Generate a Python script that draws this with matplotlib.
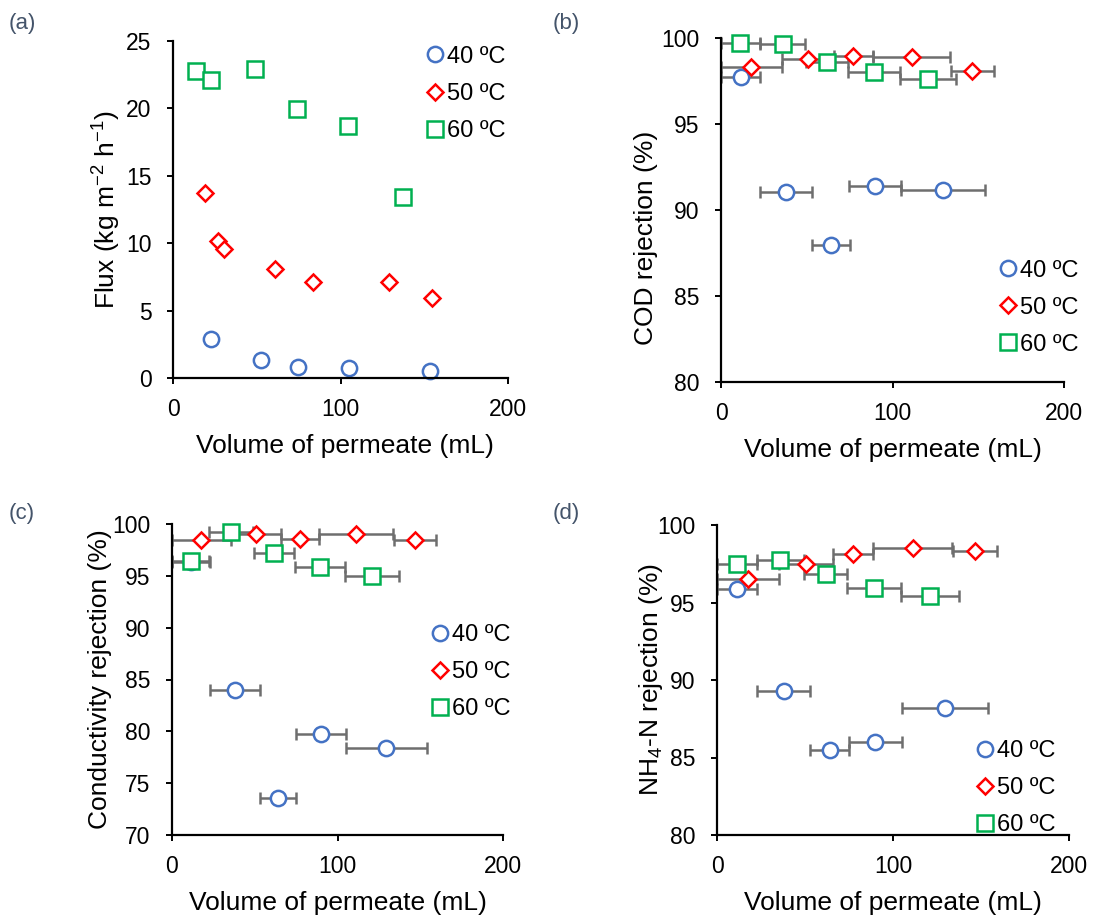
import numpy as np
import matplotlib
matplotlib.use("Agg")
import matplotlib.pyplot as plt

plt.rcParams['font.family'] = ['Liberation Sans', 'DejaVu Sans']
plt.rcParams['mathtext.fontset'] = 'custom'
plt.rcParams['mathtext.rm'] = 'Liberation Sans'
plt.rcParams['mathtext.it'] = 'Liberation Sans:italic'

# flux measurements (cumulative permeate volume, mL)
flux_vol_40 = [22.9, 52.3, 74.4, 105.1, 153.6]
flux_40 = [2.92, 1.36, 0.82, 0.74, 0.49]
flux_vol_50 = [18.9, 26.9, 30.2, 60.9, 83.6, 128.8, 154.6]
flux_50 = [13.72, 10.16, 9.55, 8.09, 7.15, 7.10, 5.96]
flux_vol_60 = [13.9, 22.7, 49.2, 74.0, 104.3, 137.1]
flux_60 = [22.77, 22.08, 22.95, 19.98, 18.72, 13.43]

# sampling intervals: midpoint volume and half-width
vol_40 = [11.5, 38.0, 64.0, 90.0, 129.5]
err_40 = [11.5, 15.0, 11.0, 15.2, 24.3]
vol_50 = [17.7, 50.6, 77.2, 111.2, 146.6]
err_50 = [17.7, 15.2, 11.4, 22.6, 12.7]
vol_60 = [11.3, 35.9, 61.7, 89.3, 120.9]
err_60 = [11.3, 13.3, 12.3, 15.2, 16.4]

# COD rejection (%)
cod_40 = [97.71, 91.05, 87.95, 91.40, 91.16]
cod_50 = [98.29, 98.78, 98.93, 98.88, 98.10]
cod_60 = [99.71, 99.65, 98.59, 98.00, 97.62]

# conductivity rejection (%)
cond_40 = [96.30, 83.97, 73.58, 79.79, 78.40]
cond_50 = [98.49, 99.00, 98.58, 99.00, 98.46]
cond_60 = [96.40, 99.26, 97.17, 95.88, 95.01]

# NH4-N rejection (%)
nh4_40 = [95.88, 89.32, 85.48, 85.97, 88.21]
nh4_50 = [96.52, 97.51, 98.13, 98.52, 98.30]
nh4_60 = [97.51, 97.77, 96.82, 95.94, 95.42]

labels = ['40 ºC', '50 ºC', '60 ºC']
colors = ['#4472C4', '#FF0000', '#00B050']
markers = ['o', 'D', 's']
msizes = [11, 8.5, 11]

fig = plt.figure(figsize=(10.94, 9.17), dpi=100)
W, H = 1094, 917


def make_axes(l, r, t, b):
    return fig.add_axes([l / W, 1 - b / H, (r - l) / W, (b - t) / H])


def style(ax, ylim, yticks, ylabel, ylab_x, ylab_y=0.5, xlab_x=0.5):
    ax.set_xlim(0, 200)
    ax.set_xticks([0, 100, 200])
    ax.set_ylim(*ylim)
    ax.set_yticks(yticks)
    ax.spines['top'].set_visible(False)
    ax.spines['right'].set_visible(False)
    for s in ['left', 'bottom']:
        ax.spines[s].set_linewidth(1.6)
    ax.tick_params(direction='out', length=4.5, width=1.4, labelsize=16.5)
    ax.tick_params(axis='x', pad=10)
    ax.tick_params(axis='y', pad=11)
    ax.set_xlabel('Volume of permeate (mL)', fontsize=19, labelpad=9)
    ax.xaxis.label.set_x(xlab_x)
    ax.set_ylabel(ylabel, fontsize=19)
    ax.yaxis.set_label_coords(ylab_x, ylab_y)


def add_legend(ax, x, y):
    ax.legend(loc='upper left', bbox_to_anchor=(x, y), frameon=False,
              fontsize=17, handlelength=0.8, handletextpad=0.1,
              labelspacing=0.64, borderpad=0, borderaxespad=0)


def scatter_panel(ax, vols, errs, ys):
    for v, e, y, c, m, ms, lab in zip(vols, errs, ys, colors, markers, msizes, labels):
        ax.errorbar(v, y, xerr=e, fmt='none', ecolor='#6E6E6E', elinewidth=1.8,
                    capsize=4.5, capthick=1.8, zorder=2, clip_on=False)
        ax.plot(v, y, linestyle='none', marker=m, ms=ms, mfc='white', mec=c,
                mew=1.8, label=lab, zorder=3, clip_on=False)


vols = [vol_40, vol_50, vol_60]
errs = [err_40, err_50, err_60]

# (a) flux
ax = make_axes(173, 508, 41, 378)
for v, y, c, m, ms, lab in zip([flux_vol_40, flux_vol_50, flux_vol_60],
                               [flux_40, flux_50, flux_60], colors, markers, msizes, labels):
    ax.plot(v, y, linestyle='none', marker=m, ms=ms, mfc='white', mec=c,
            mew=1.8, label=lab, clip_on=False)
style(ax, (0, 25), [0, 5, 10, 15, 20, 25], r'Flux (kg m$^{-2}$ h$^{-1}$)', -0.149, xlab_x=0.513)
add_legend(ax, 0.754, 0.986)

# (b) COD
ax = make_axes(721, 1064, 38, 382)
scatter_panel(ax, vols, errs, [cod_40, cod_50, cod_60])
style(ax, (80, 100), [80, 85, 90, 95, 100], 'COD rejection (%)', -0.183, 0.42)
add_legend(ax, 0.809, 0.356)

# (c) conductivity
ax = make_axes(172, 503, 524, 835)
scatter_panel(ax, vols, errs, [cond_40, cond_50, cond_60])
style(ax, (70, 100), [70, 75, 80, 85, 90, 95, 100], 'Conductivity rejection (%)', -0.181)
add_legend(ax, 0.781, 0.679)

# (d) NH4-N
ax = make_axes(717, 1069, 525, 835)
scatter_panel(ax, vols, errs, [nh4_40, nh4_50, nh4_60])
style(ax, (80, 100), [80, 85, 90, 95, 100], r'NH$_4$-N rejection (%)', -0.147)
add_legend(ax, 0.735, 0.307)

for txt, x, y in [('(a)', 9, 13), ('(b)', 553, 13), ('(c)', 9, 503), ('(d)', 553, 503)]:
    fig.text(x / W, 1 - y / H, txt, fontsize=16, color='#44546A', va='top', ha='left')

fig.savefig('out.png', dpi=100)
